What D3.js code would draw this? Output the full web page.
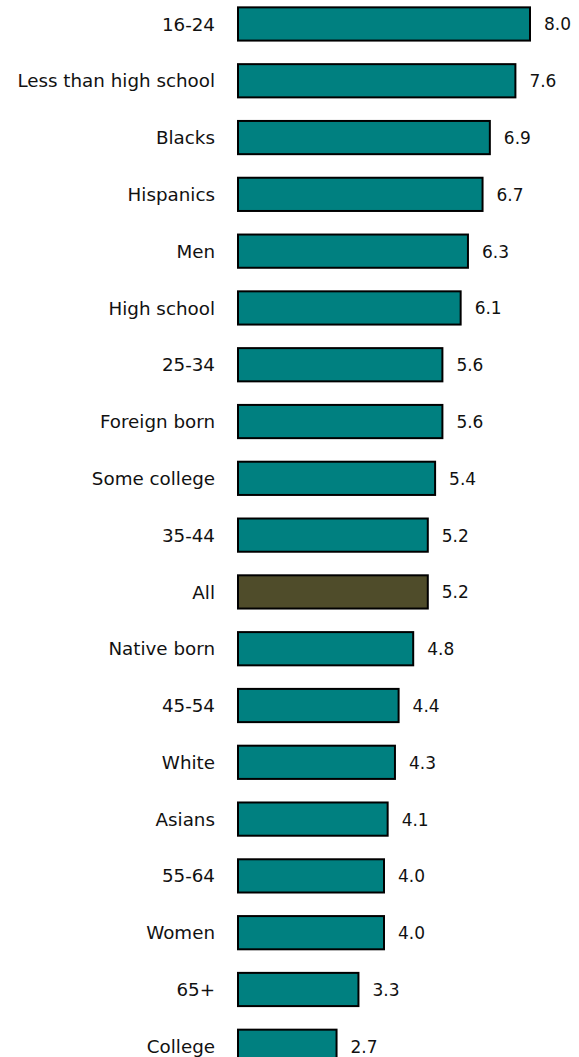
<!DOCTYPE html>
<html>
<head>
<meta charset="utf-8">
<script src="https://cdn.jsdelivr.net/npm/d3@7"></script>
<style>
  html, body { margin: 0; padding: 0; background: #fff; }
  svg { display: block; }
  text { font-family: "DejaVu Sans", sans-serif; fill: #111; }
  .label { font-size: 18.3px; }
  .value { font-size: 17px; }
</style>
</head>
<body>
<svg id="chart" width="579" height="1057"></svg>
<script>
// Unemployment rate by group (%)
const categories = [
  "16-24", "Less than high school", "Blacks", "Hispanics", "Men",
  "High school", "25-34", "Foreign born", "Some college", "35-44",
  "All", "Native born", "45-54", "White", "Asians",
  "55-64", "Women", "65+", "College"
];
const values = [8.0, 7.6, 6.9, 6.7, 6.3, 6.1, 5.6, 5.6, 5.4, 5.2,
                5.2, 4.8, 4.4, 4.3, 4.1, 4.0, 4.0, 3.3, 2.7];
const highlight = "All";

const svg = d3.select("#chart");
const x0 = 238;
const x = d3.scaleLinear().domain([0, 8]).range([x0, x0 + 292]);
const y = d3.scaleBand().domain(categories)
  .range([-4, -4 + 56.75 * categories.length])
  .paddingInner(0.415).paddingOuter(0.2);

const rows = svg.selectAll("g.row").data(categories).join("g").attr("class", "row");

rows.append("rect")
  .attr("x", x(0))
  .attr("y", d => y(d))
  .attr("width", (d, i) => x(values[i]) - x(0))
  .attr("height", y.bandwidth())
  .attr("fill", d => d === highlight ? "#4f4c2a" : "#008080")
  .attr("stroke", "#000")
  .attr("stroke-width", 2);

rows.append("text")
  .attr("class", "label")
  .attr("x", 215)
  .attr("y", d => y(d) + y.bandwidth() / 2)
  .attr("dy", "0.36em")
  .attr("text-anchor", "end")
  .text(d => d);

rows.append("text")
  .attr("class", "value")
  .attr("x", (d, i) => x(values[i]) + 14)
  .attr("y", d => y(d) + y.bandwidth() / 2)
  .attr("dy", "0.38em")
  .text((d, i) => values[i].toFixed(1));
</script>
</body>
</html>
